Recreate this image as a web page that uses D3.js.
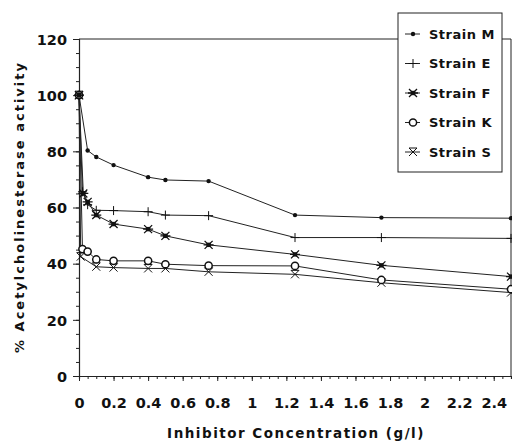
<!DOCTYPE html>
<html>
<head>
<meta charset="utf-8">
<script src="https://cdn.jsdelivr.net/npm/d3@7"></script>
<style>
  body { margin: 0; background: #fff; }
  text { font-family: "DejaVu Sans", sans-serif; font-weight: bold; fill: #111; }
</style>
</head>
<body>
<div id="chart"></div>
<script>
// inhibitor concentration (g/l) and % activity for each strain
const concM = [0, 0.05, 0.1, 0.2, 0.4, 0.5, 0.75, 1.25, 1.75, 2.5];
const valM  = [100, 80.3, 78, 75.1, 70.8, 69.8, 69.4, 57.3, 56.4, 56.2];

const concE = [0, 0.02, 0.05, 0.1, 0.2, 0.4, 0.5, 0.75, 1.25, 1.75, 2.5];
const valE  = [100, 65.6, 61, 59, 58.9, 58.5, 57.3, 57.1, 49.3, 49.3, 49];

const concF = [0, 0.025, 0.05, 0.1, 0.2, 0.4, 0.5, 0.75, 1.25, 1.75, 2.5];
const valF  = [100, 65, 62, 57.3, 54.1, 52.3, 49.9, 46.7, 43.3, 39.4, 35.4];

const concK = [0, 0.02, 0.05, 0.1, 0.2, 0.4, 0.5, 0.75, 1.25, 1.75, 2.5];
const valK  = [100, 45.2, 44.3, 41.5, 41, 41, 39.8, 39.3, 39.2, 34.2, 30.9];

const concS = [0, 0.01, 0.1, 0.2, 0.4, 0.5, 0.75, 1.25, 1.75, 2.5];
const valS  = [100, 42.5, 38.9, 38.6, 38.3, 38.3, 37.1, 36.2, 33.2, 29.7];

const strainNames = ["Strain M", "Strain E", "Strain F", "Strain K", "Strain S"];
const xTicks = [0, 0.2, 0.4, 0.6, 0.8, 1, 1.2, 1.4, 1.6, 1.8, 2, 2.2, 2.4];
const yTicks = [0, 20, 40, 60, 80, 100, 120];

const width = 512, height = 442;
const margin = { top: 39, right: 1, bottom: 66, left: 79 };

const series = [
    { name: strainNames[0], mark: "dot",    data: concM.map((c, i) => [c, valM[i]]) },
    { name: strainNames[1], mark: "plus",   data: concE.map((c, i) => [c, valE[i]]) },
    { name: strainNames[2], mark: "star",   data: concF.map((c, i) => [c, valF[i]]) },
    { name: strainNames[3], mark: "circle", data: concK.map((c, i) => [c, valK[i]]) },
    { name: strainNames[4], mark: "cross",  data: concS.map((c, i) => [c, valS[i]]) }
];

const x = d3.scaleLinear().domain([0, 2.5]).range([margin.left, width - margin.right]);
const y = d3.scaleLinear().domain([0, 120]).range([height - margin.bottom, margin.top]);

const svg = d3.select("#chart").append("svg")
    .attr("width", width)
    .attr("height", height);

// frame top & right
svg.append("path")
    .attr("d", `M${x(0)},${y(120)}H${x(2.5)}V${y(0)}`)
    .attr("fill", "none").attr("stroke", "#222").attr("stroke-width", 1);

// x axis
const xAxis = svg.append("g").attr("transform", `translate(0,${y(0)})`);
xAxis.call(d3.axisBottom(x).tickValues(d3.range(0, 2.5001, 0.05)).tickSize(3).tickFormat(""))
    .call(g => g.select(".domain").attr("stroke", "#222").attr("stroke-width", 1.2));
xAxis.append("g")
    .call(d3.axisBottom(x).tickValues(xTicks).tickSize(5).tickFormat(d3.format("")))
    .call(g => g.select(".domain").remove())
    .call(g => g.selectAll("text").attr("font-size", 14.5).attr("dy", "1.65em"));

// y axis
const yAxis = svg.append("g").attr("transform", `translate(${x(0)},0)`);
yAxis.call(d3.axisLeft(y).tickValues(d3.range(0, 121, 5)).tickSize(3).tickFormat(""))
    .call(g => g.select(".domain").attr("stroke", "#222").attr("stroke-width", 1.2));
yAxis.append("g")
    .call(d3.axisLeft(y).tickValues(yTicks).tickSize(6).tickFormat(d3.format("")))
    .call(g => g.select(".domain").remove())
    .call(g => g.selectAll("text").attr("font-size", 14.5).attr("x", -12).attr("dy", "0.36em"));
svg.selectAll(".tick line").attr("stroke", "#222");
svg.selectAll(".tick text").attr("fill", "#111");

// axis titles
svg.append("text")
    .attr("x", 296).attr("y", 438)
    .attr("text-anchor", "middle")
    .attr("font-size", 13.5)
    .attr("letter-spacing", 1.5)
    .text("Inhibitor Concentration (g/l)");

svg.append("text")
    .attr("transform", "translate(24,207) rotate(-90)")
    .attr("text-anchor", "middle")
    .attr("font-size", 13)
    .attr("letter-spacing", 2)
    .text("% Acetylcholinesterase activity");

// markers
function drawMark(g, type) {
    if (type === "dot") {
        g.append("circle").attr("r", 2.2).attr("fill", "#111");
    } else if (type === "plus") {
        g.append("path").attr("d", "M-4.5,0H4.5M0,-4.5V4.5").attr("stroke", "#111").attr("stroke-width", 1);
    } else if (type === "star") {
        g.append("path").attr("d", "M-4,-4L4,4M-4,4L4,-4M-5,0H5")
            .attr("stroke", "#111").attr("stroke-width", 1.3);
        g.append("rect").attr("x", -2.2).attr("y", -2.2).attr("width", 4.4).attr("height", 4.4).attr("fill", "#111");
    } else if (type === "circle") {
        g.append("circle").attr("r", 3.6).attr("fill", "#fff").attr("stroke", "#111").attr("stroke-width", 1.5);
    } else if (type === "cross") {
        g.append("path").attr("d", "M-4,-4L4,4M-4,4L4,-4M-4,-4H4")
            .attr("stroke", "#111").attr("stroke-width", 1);
    }
}

const line = d3.line().x(d => x(d[0])).y(d => y(d[1]));

series.forEach(s => {
    svg.append("path")
        .datum(s.data)
        .attr("fill", "none")
        .attr("stroke", "#222")
        .attr("stroke-width", 1)
        .attr("d", line);
});

// draw in reverse so the filled F marker sits on top at 100
series.slice().reverse().forEach(s => {
    svg.append("g").selectAll("g")
        .data(s.data)
        .join("g")
        .attr("transform", d => `translate(${x(d[0])},${y(d[1])})`)
        .each(function () { drawMark(d3.select(this), s.mark); });
});

// legend
const legend = svg.append("g").attr("transform", "translate(398,13)");
legend.append("rect")
    .attr("width", 104).attr("height", 159)
    .attr("fill", "#fff").attr("stroke", "#222").attr("stroke-width", 1);

const item = legend.selectAll("g.item")
    .data(series)
    .join("g")
    .attr("class", "item")
    .attr("transform", (d, i) => `translate(0,${21 + i * 29.5})`);

item.append("line")
    .attr("x1", 7).attr("x2", 22)
    .attr("stroke", "#222").attr("stroke-width", 1);
item.each(function (d) {
    const g = d3.select(this).append("g").attr("transform", "translate(15,0)");
    drawMark(g, d.mark);
});
item.append("text")
    .attr("x", 31).attr("dy", "0.35em")
    .attr("font-size", 13)
    .attr("letter-spacing", 0.5)
    .text(d => d.name);
</script>
</body>
</html>
